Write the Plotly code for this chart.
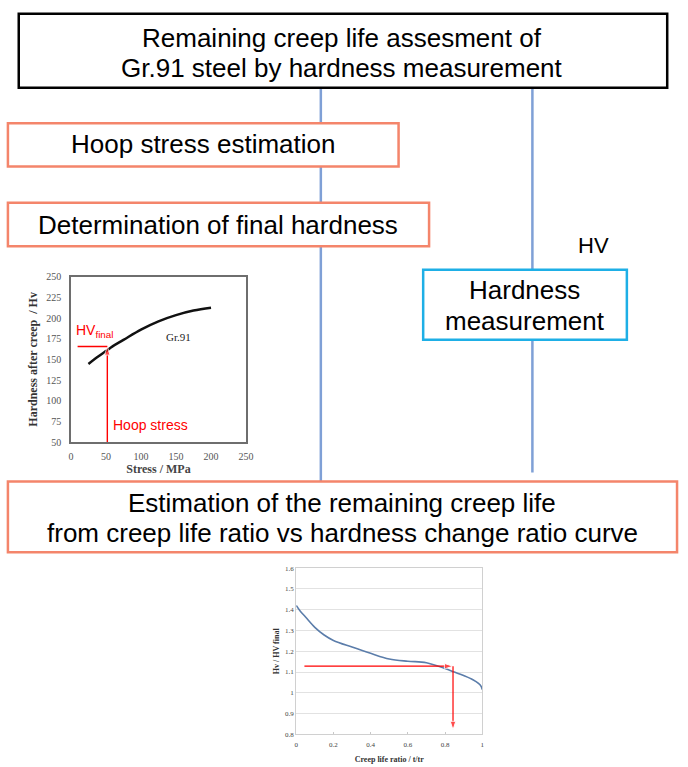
import plotly.graph_objects as go

W, H = 688, 767

# ---- data: chart 1 (hardness after creep vs stress) ----
stress = [25, 40, 50, 60, 75, 100, 125, 150, 175, 200]
hardness = [144.5, 154, 160, 166, 173.5, 186, 196, 203.5, 209, 212.5]
hoop_stress = 52
hv_final = 165.5
arrow1_x_end = -2
arrow1_y_start = 50

# ---- data: chart 2 (Hv/HVfinal vs creep life ratio) ----
life_ratio = [0.0, 0.02, 0.05, 0.1, 0.15, 0.2, 0.3, 0.4, 0.5, 0.6, 0.7, 0.8, 0.85, 0.9, 0.95, 0.98, 0.995, 1.0]
hv_ratio = [1.42, 1.395, 1.365, 1.315, 1.278, 1.252, 1.22, 1.19, 1.163, 1.152, 1.145, 1.117, 1.10, 1.083, 1.063, 1.045, 1.03, 1.015]
arrow_start = 0.044
measured_ratio = 1.128
estimated_life = 0.843
arrow_bottom = 0.822

# ---- flowchart texts ----
title_lines = ["Remaining creep life assesment of", "Gr.91 steel by hardness measurement"]
step1 = "Hoop stress estimation"
step2 = "Determination of final hardness"
hv_label = "HV"
meas_lines = ["Hardness", "measurement"]
final_lines = ["Estimation of the remaining creep life", "from creep life ratio vs hardness change ratio curve"]

ORANGE = "#F4856B"
CYAN = "#1EAFE6"
BLUE = "#7FA0D6"
RED = "#FF0000"
SANS = "Arial, Liberation Sans, sans-serif"
SERIF = "Times New Roman, Liberation Serif, serif"


def px(x):
    return x / W


def py(y):
    return 1 - y / H


fig = go.Figure()

fig.add_trace(go.Scatter(x=stress, y=hardness, mode="lines", line=dict(color="#111111", width=2.5, shape="spline"),
                         xaxis="x", yaxis="y", showlegend=False, hoverinfo="skip"))
fig.add_trace(go.Scatter(x=life_ratio, y=hv_ratio, mode="lines", line=dict(color="#5B7DAA", width=1.6, shape="spline"),
                         xaxis="x2", yaxis="y2", showlegend=False, hoverinfo="skip"))


def arrow(xs, ys, xa, ya, width):
    fig.add_trace(go.Scatter(x=xs, y=ys, mode="lines+markers", xaxis=xa, yaxis=ya,
                             line=dict(color=RED, width=width),
                             marker=dict(symbol="arrow", angleref="previous", size=[0, 9], color=RED),
                             showlegend=False, hoverinfo="skip", cliponaxis=False))


arrow([hoop_stress, hoop_stress], [arrow1_y_start, hv_final], "x", "y", 1.4)
arrow([hoop_stress, arrow1_x_end], [hv_final, hv_final], "x", "y", 1.4)
arrow([arrow_start, estimated_life], [measured_ratio, measured_ratio], "x2", "y2", 1.2)
arrow([estimated_life, estimated_life], [measured_ratio, arrow_bottom], "x2", "y2", 1.2)

shapes = []
shapes.append(dict(type="line", xref="paper", yref="paper", x0=px(323), x1=px(323), y0=py(83), y1=py(483),
                   line=dict(color=BLUE, width=2.5)))
shapes.append(dict(type="line", xref="paper", yref="paper", x0=px(538), x1=px(538), y0=py(83), y1=py(474),
                   line=dict(color=BLUE, width=2.5)))


def box(x0, y0, x1, y1, color, w):
    shapes.append(dict(type="rect", xref="paper", yref="paper", x0=px(x0), x1=px(x1), y0=py(y1), y1=py(y0),
                       line=dict(color=color, width=w), fillcolor="white"))


box(16, 8, 675, 83, "black", 2.5)
box(5, 119, 402, 163, ORANGE, 2.5)
box(5, 200, 433, 244, ORANGE, 2.5)
box(427, 268, 634, 339, CYAN, 2.5)
box(5, 483, 685, 555, ORANGE, 2.5)

annotations = []


def text(x, y, s, size=26, color="black", family=SANS):
    annotations.append(dict(xref="paper", yref="paper", x=px(x), y=py(y), text=s, showarrow=False,
                            xanchor="center", yanchor="middle", font=dict(family=family, size=size, color=color)))


text(345, 33, title_lines[0])
text(345, 63, title_lines[1])
text(203, 140, step1)
text(219, 222, step2)
text(600, 243, hv_label, size=22)
text(530, 289, meas_lines[0])
text(530, 320, meas_lines[1])
text(345, 505, final_lines[0])
text(345, 535, final_lines[1])

annotations.append(dict(xref="x", yref="y", x=153, y=177, text="Gr.91", showarrow=False,
                        font=dict(family=SERIF, size=11, color="#222")))
annotations.append(dict(xref="x", yref="y", x=34, y=184, text="HV<sub>final</sub>", showarrow=False,
                        font=dict(family=SANS, size=14, color=RED)))
annotations.append(dict(xref="x", yref="y", x=114, y=71, text="Hoop stress", showarrow=False,
                        font=dict(family=SANS, size=14, color=RED)))

fig.update_layout(
    width=W, height=H, margin=dict(l=0, r=0, t=0, b=0),
    paper_bgcolor="white", plot_bgcolor="white",
    shapes=shapes, annotations=annotations, showlegend=False,
    xaxis=dict(domain=[px(69), px(247)], range=[0, 250], dtick=50, anchor="y",
               showline=True, mirror=True, linecolor="#6e6e6e", linewidth=1.5, showgrid=False, zeroline=False,
               ticks="", ticklabelstandoff=4, tickfont=dict(family=SERIF, size=10, color="#555"),
               title=dict(text="<b>Stress / MPa</b>", font=dict(family=SERIF, size=12, color="#444"), standoff=0)),
    yaxis=dict(domain=[py(443), py(275)], range=[50, 250], dtick=25, anchor="x",
               showline=True, mirror=True, linecolor="#6e6e6e", linewidth=1.5, showgrid=False, zeroline=False,
               ticks="", ticklabelstandoff=6, tickfont=dict(family=SERIF, size=10, color="#555"),
               title=dict(text="<b>Hardness after creep  / Hv</b>", font=dict(family=SERIF, size=12, color="#333"),
                          standoff=6)),
    xaxis2=dict(domain=[px(298), px(487)], range=[0, 1], dtick=0.2, anchor="y2",
                showline=True, mirror=True, linecolor="#d0d0d0", linewidth=1, showgrid=False, zeroline=False,
                ticks="inside", ticklen=2, tickcolor="#c8c8c8", ticklabelstandoff=3,
                tickfont=dict(family=SERIF, size=7, color="#444"),
                title=dict(text="<b>Creep life ratio / t/tr</b>", font=dict(family=SERIF, size=8, color="#333"),
                           standoff=8)),
    yaxis2=dict(domain=[py(740), py(571)], range=[0.8, 1.6], dtick=0.1, anchor="x2",
                showline=True, mirror=True, linecolor="#d0d0d0", linewidth=1, showgrid=True, gridcolor="#e2e2e2",
                zeroline=False, ticks="", tickfont=dict(family=SERIF, size=7, color="#444"),
                title=dict(text="<b>Hv / HV final</b>", font=dict(family=SERIF, size=8, color="#333"),
                           standoff=4)),
)

fig.write_html("out.html", config={"displayModeBar": False},
               post_script="document.body.style.margin='0';")
